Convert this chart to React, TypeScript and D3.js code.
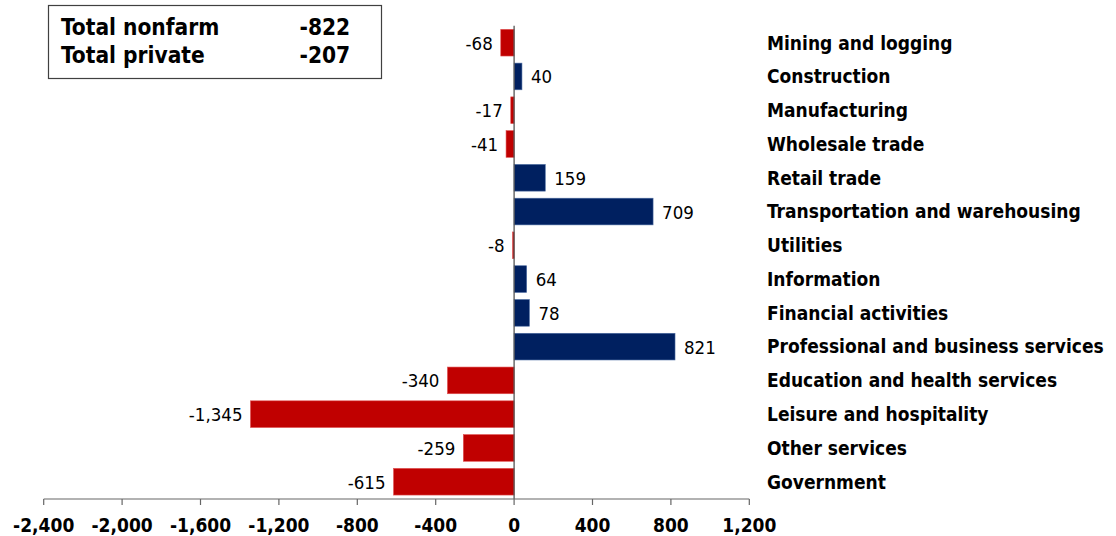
import React from "react";
import * as d3 from "d3";

const categories = [
  "Mining and logging",
  "Construction",
  "Manufacturing",
  "Wholesale trade",
  "Retail trade",
  "Transportation and warehousing",
  "Utilities",
  "Information",
  "Financial activities",
  "Professional and business services",
  "Education and health services",
  "Leisure and hospitality",
  "Other services",
  "Government",
];
const values = [-68, 40, -17, -41, 159, 709, -8, 64, 78, 821, -340, -1345, -259, -615];
const tickValues = [-2400, -2000, -1600, -1200, -800, -400, 0, 400, 800, 1200];
const summaryLabels = ["Total nonfarm", "Total private"];
const summaryValues = [-822, -207];

const W = 1116;
const H = 536;
const FONT = "'DejaVu Sans Condensed', 'DejaVu Sans', sans-serif";

const locale = d3.formatLocale({
  decimal: ".",
  thousands: ",",
  grouping: [3],
  currency: ["$", ""],
  minus: "-",
});
const fmt = locale.format(",");

export default function App() {
  const x = d3.scaleLinear().domain([-2400, 1200]).range([43.7, 749.3]);
  const y = d3
    .scaleBand<string>()
    .domain(categories)
    .range([25.8, 498.6])
    .paddingInner(0.21)
    .paddingOuter(0.105);
  const x0 = x(0);

  return (
    <svg
      width={W}
      height={H}
      style={{ position: "absolute", left: 0, top: 0, background: "#fff" }}
      fontFamily={FONT}
    >
      {/* summary box */}
      <rect x={48.5} y={5.5} width={333} height={73} fill="#fff" stroke="#404040" strokeWidth={1.2} />
      {summaryLabels.map((s, i) => (
        <g key={s} fontWeight="bold" fontSize={22.5} fill="#000">
          <text x={61} y={34.7 + i * 28.6}>{s}</text>
          <text x={299.5} y={34.7 + i * 28.6}>{fmt(summaryValues[i])}</text>
        </g>
      ))}

      {/* bars */}
      {categories.map((c, i) => {
        const v = values[i];
        const yy = y(c)!;
        const bw = y.bandwidth();
        const xs = Math.min(x(v), x0);
        const w = Math.abs(x(v) - x0);
        const pos = v >= 0;
        return (
          <g key={c}>
            <rect
              x={xs}
              y={yy}
              width={w}
              height={bw}
              fill={pos ? "#002060" : "#C00000"}
              stroke={pos ? "#4a6aa0" : "#e05050"}
              strokeWidth={0.6}
            />
            <text
              x={pos ? x(v) + 9 : x(v) - 8}
              y={yy + bw / 2}
              dy="0.38em"
              textAnchor={pos ? "start" : "end"}
              fontSize={18.5}
              fill="#000"
            >
              {fmt(v)}
            </text>
            <text
              x={767}
              y={yy + bw / 2}
              dy="0.36em"
              fontSize={19}
              fontWeight="bold"
              fill="#000"
            >
              {c}
            </text>
          </g>
        );
      })}

      {/* zero line */}
      <line x1={x0} x2={x0} y1={25.8} y2={499} stroke="#555" strokeWidth={1.3} />

      {/* x axis */}
      <line x1={x(-2400)} x2={x(1200)} y1={499} y2={499} stroke="#666" strokeWidth={1.2} />
      {tickValues.map((t) => (
        <g key={t}>
          <line x1={x(t)} x2={x(t)} y1={499} y2={505} stroke="#666" strokeWidth={1.2} />
          <text
            x={x(t)}
            y={531.7}
            textAnchor="middle"
            fontSize={19}
            fontWeight="bold"
            fill="#000"
          >
            {fmt(t)}
          </text>
        </g>
      ))}
    </svg>
  );
}
